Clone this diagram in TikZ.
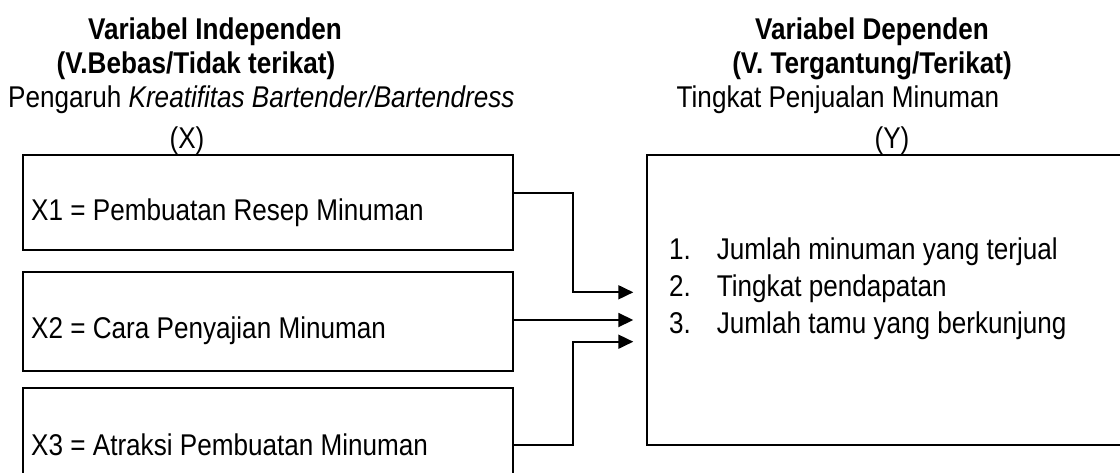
\documentclass[tikz,border=0pt]{standalone}
\usepackage{fontspec}
\setmainfont{Liberation Sans}[FakeStretch=0.87]
\usetikzlibrary{arrows.meta,calc}
\begin{document}
\begin{tikzpicture}[x=1pt,y=-1pt,
  box/.style={draw,line width=1.8pt,minimum width=490.6pt,inner sep=0pt,outer sep=0pt},
  txt/.style={inner sep=0pt,font=\fontsize{30}{34}\selectfont},
  head/.style={inner sep=0pt,font=\fontsize{30}{34}\selectfont\bfseries},
  conn/.style={line width=1.8pt,-{Triangle[length=15pt,width=14pt]}},
  ]
\useasboundingbox (0,0) rectangle (1120,472);
\clip (0,0) rectangle (1120,472);
% headers
\node[head,anchor=base] (h1) at (215,39) {Variabel Independen};
\node[head,anchor=base] (h2) at (196,73) {(V.Bebas/Tidak terikat)};
\node[txt,anchor=base west] (h3) at (8,107) {Pengaruh \textit{Kreatifitas Bartender/Bartendress}};
\node[txt,anchor=base] (hx) at (187,148) {(X)};
\node[head,anchor=base] (r1) at (872,39) {Variabel Dependen};
\node[head,anchor=base] (r2) at (872,73) {(V. Tergantung/Terikat)};
\node[txt,anchor=base] (r3) at (838,107) {Tingkat Penjualan Minuman};
\node[txt,anchor=base] (ry) at (892,148) {(Y)};
% boxes
\node[box,minimum height=95pt] (x1) at (268,202.5) {};
\node[box,minimum height=99.3pt] (x2) at (268,321.35) {};
\node[box,minimum height=114.3pt] (x3) at (268,444.85) {};
\node[box,minimum width=492.7pt,minimum height=290pt] (yb) at (893.65,300) {};
% box texts
\node[txt,anchor=base west] (t1) at (31,220) {X1 = Pembuatan Resep Minuman};
\node[txt,anchor=base west] (t2) at (31,338) {X2 = Cara Penyajian Minuman};
\node[txt,anchor=base west] (t3) at (31,455) {X3 = Atraksi Pembuatan Minuman};
\node[txt,anchor=base west] (n1) at (669,259) {1.};
\node[txt,anchor=base west] (l1) at (716.7,259) {Jumlah minuman yang terjual};
\node[txt,anchor=base west] (n2) at (669,296) {2.};
\node[txt,anchor=base west] (l2) at (716.7,296) {Tingkat pendapatan};
\node[txt,anchor=base west] (n3) at (669,333) {3.};
\node[txt,anchor=base west] (l3) at (716.7,333) {Jumlah tamu yang berkunjung};
% connectors
\coordinate (a1) at ([xshift=-14pt,yshift=7.7pt]yb.west);
\coordinate (a2) at ([xshift=-14pt,yshift=-20pt]yb.west);
\coordinate (a3) at ([xshift=-14pt,yshift=-41.7pt]yb.west);
\draw[conn] ([yshift=9.8pt]x1.east) -- ++(60,0) |- (a1);
\draw[conn] (a2 -| x2.east) -- (a2);
\draw[conn] (x3.east) -- ++(60,0) |- (a3);
\end{tikzpicture}
\end{document}
